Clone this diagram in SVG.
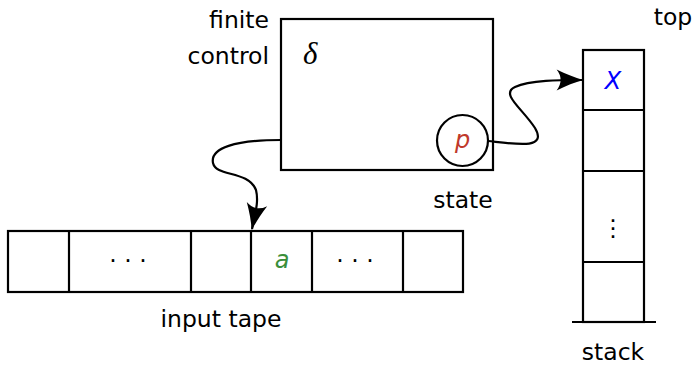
<svg xmlns="http://www.w3.org/2000/svg" width="694" height="365" viewBox="0 0 694 365">
<style>
.box{fill:#fff;stroke:#000;stroke-width:2.2}
.ln{fill:none;stroke:#000;stroke-width:2.2}
.t{font-family:"DejaVu Sans",sans-serif;font-size:23.5px;fill:#000}
.m{font-family:"DejaVu Sans",sans-serif;font-style:oblique;font-size:24px}
.conn{fill:none;stroke:#000;stroke-width:2.2}
</style>
<defs>
<marker id="arr" markerUnits="userSpaceOnUse" markerWidth="30" markerHeight="30" refX="0" refY="0" viewBox="-24 -12 26 24" orient="auto" overflow="visible">
<path d="M1,0 C-6,-2 -14,-5 -22,-9 Q-15,0 -22,9 C-14,5 -6,2 1,0 Z" fill="#000"/>
</marker>
</defs>
<g id="finite-control">
<rect class="box" x="281" y="19" width="212" height="151"/>
<text class="t" x="269" y="28" text-anchor="end">finite</text>
<text class="t" x="269" y="64" text-anchor="end">control</text>
<text x="303" y="64" font-family="Liberation Serif,serif" font-style="italic" font-size="31">δ</text>
</g>
<g id="state">
<circle class="box" cx="462.5" cy="140.5" r="25.5"/>
<text class="m" x="462.5" y="148" text-anchor="middle" fill="#c0392b">p</text>
<text class="t" x="463" y="208" text-anchor="middle">state</text>
</g>
<g id="input-tape">
<rect class="box" x="8" y="231" width="455" height="61"/>
<line class="ln" x1="69" y1="231" x2="69" y2="292"/>
<line class="ln" x1="191" y1="231" x2="191" y2="292"/>
<line class="ln" x1="251" y1="231" x2="251" y2="292"/>
<line class="ln" x1="312" y1="231" x2="312" y2="292"/>
<line class="ln" x1="403" y1="231" x2="403" y2="292"/>
<text class="t" x="128" y="269" text-anchor="middle">· · ·</text>
<text class="m" x="282" y="268" text-anchor="middle" fill="#3a8f3a">a</text>
<text class="t" x="355" y="269" text-anchor="middle">· · ·</text>
<text class="t" x="221" y="327" text-anchor="middle">input tape</text>
</g>
<g id="stack">
<rect class="box" x="583" y="50" width="61" height="272"/>
<line class="ln" x1="583" y1="110" x2="644" y2="110"/>
<line class="ln" x1="583" y1="171" x2="644" y2="171"/>
<line class="ln" x1="583" y1="262" x2="644" y2="262"/>
<line class="ln" x1="572" y1="322" x2="656" y2="322"/>
<text class="m" x="613" y="89" text-anchor="middle" fill="#0000ff" font-size="27">X</text>
<text class="t" x="613" y="236" text-anchor="middle" font-size="28">⋮</text>
<text class="t" x="673" y="25" text-anchor="middle" font-size="21">top</text>
<text class="t" x="613" y="360" text-anchor="middle">stack</text>
</g>
<g id="connectors">
<path class="conn" d="M281,140 C235,140 210,148 213,163 C216,177 248,170 256,190 C259,202 255,214 252,229" marker-end="url(#arr)"/>
<path class="conn" d="M488,141 C515,144 548,150 535,128 C522,108 500,94 515,87 C530,80 560,80 582,80" marker-end="url(#arr)"/>
</g>
</svg>
